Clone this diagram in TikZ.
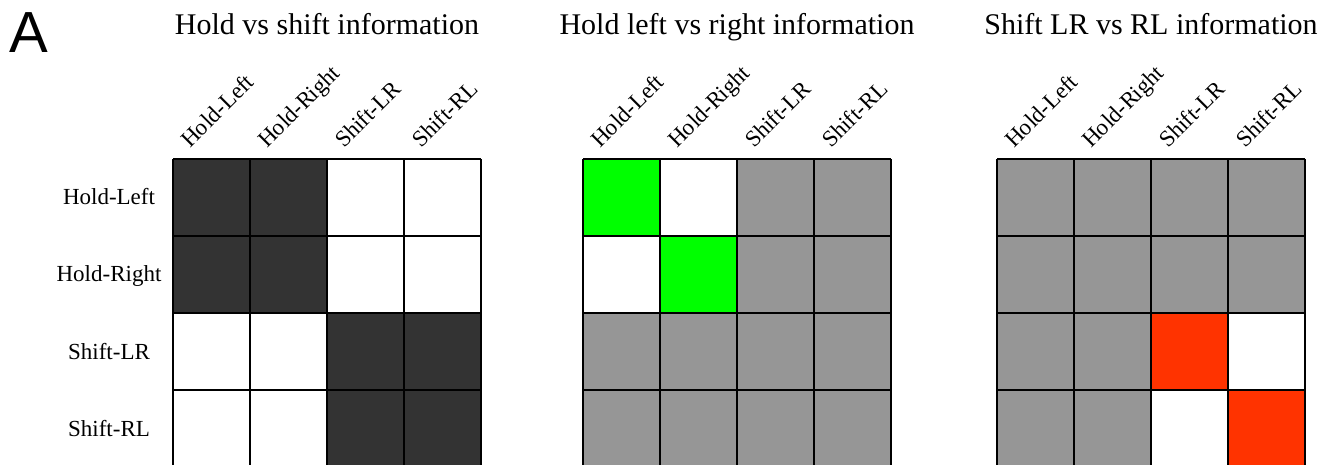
\documentclass[tikz,border=0pt]{standalone}
\usepackage{fontspec}
\setmainfont{Liberation Serif}
\newfontfamily\panelfont{Liberation Sans}
\definecolor{dk}{HTML}{333333}
\definecolor{gr}{HTML}{969696}
\definecolor{gn}{HTML}{00FF00}
\definecolor{rd}{HTML}{FF3300}
\tikzset{
  cellbox/.style={draw=black,line width=2.8pt},
  titletext/.style={anchor=base,inner sep=0pt,font=\fontsize{30}{34}\selectfont},
  rowtext/.style={anchor=base,inner sep=0pt,font=\fontsize{23}{27}\selectfont},
  coltext/.style={anchor=base west,inner sep=0pt,rotate=45,font=\fontsize{23}{27}\selectfont},
  paneltext/.style={anchor=base west,inner sep=0pt,font=\panelfont\fontsize{58}{62}\selectfont}
}
\begin{document}
\begin{tikzpicture}[x=1pt,y=-1pt]
\useasboundingbox (0,0) rectangle (1323,465);
\clip (0,0) rectangle (1323,465);
\fill[white] (0,0) rectangle (1323,465);
\node[paneltext] (panelA) at (9,53) {A};
% titles
\node[titletext] (t1) at (327,35) {Hold vs shift information};
\node[titletext] (t2) at (737,35) {Hold left vs right information};
\node[titletext] (t3) at (1151,35) {Shift LR vs RL information};
% row labels
\foreach \lab [count=\r from 0] in {Hold-Left,Hold-Right,Shift-LR,Shift-RL}{
  \node[rowtext] (row\r) at (109,{159+77*\r+46}) {\lab};
}
% matrices
\foreach \gx/\gname/\cols in {173/m1/{dk,dk,white,white,dk,dk,white,white,white,white,dk,dk,white,white,dk,dk},
                       583/m2/{gn,white,gr,gr,white,gn,gr,gr,gr,gr,gr,gr,gr,gr,gr,gr},
                       997/m3/{gr,gr,gr,gr,gr,gr,gr,gr,gr,gr,rd,white,gr,gr,white,rd}}{
  \foreach \c [count=\i from 0] in \cols {
    \pgfmathtruncatemacro{\rr}{int(\i/4)}
    \pgfmathtruncatemacro{\cc}{mod(\i,4)}
    \fill[\c] ({\gx+77*\cc},{159+77*\rr}) rectangle ++(77,77);
  }
  \foreach \k in {0,...,4}{
    \draw[cellbox] ({\gx+77*\k},159) -- ({\gx+77*\k},467);
    \draw[cellbox] (\gx,{159+77*\k}) -- ({\gx+308},{159+77*\k});
  }
  \foreach \lab [count=\q from 0] in {Hold-Left,Hold-Right,Shift-LR,Shift-RL}{
    \node[coltext] (\gname col\q) at ({\gx+77*\q+17},149) {\lab};
  }
}
\end{tikzpicture}
\end{document}
